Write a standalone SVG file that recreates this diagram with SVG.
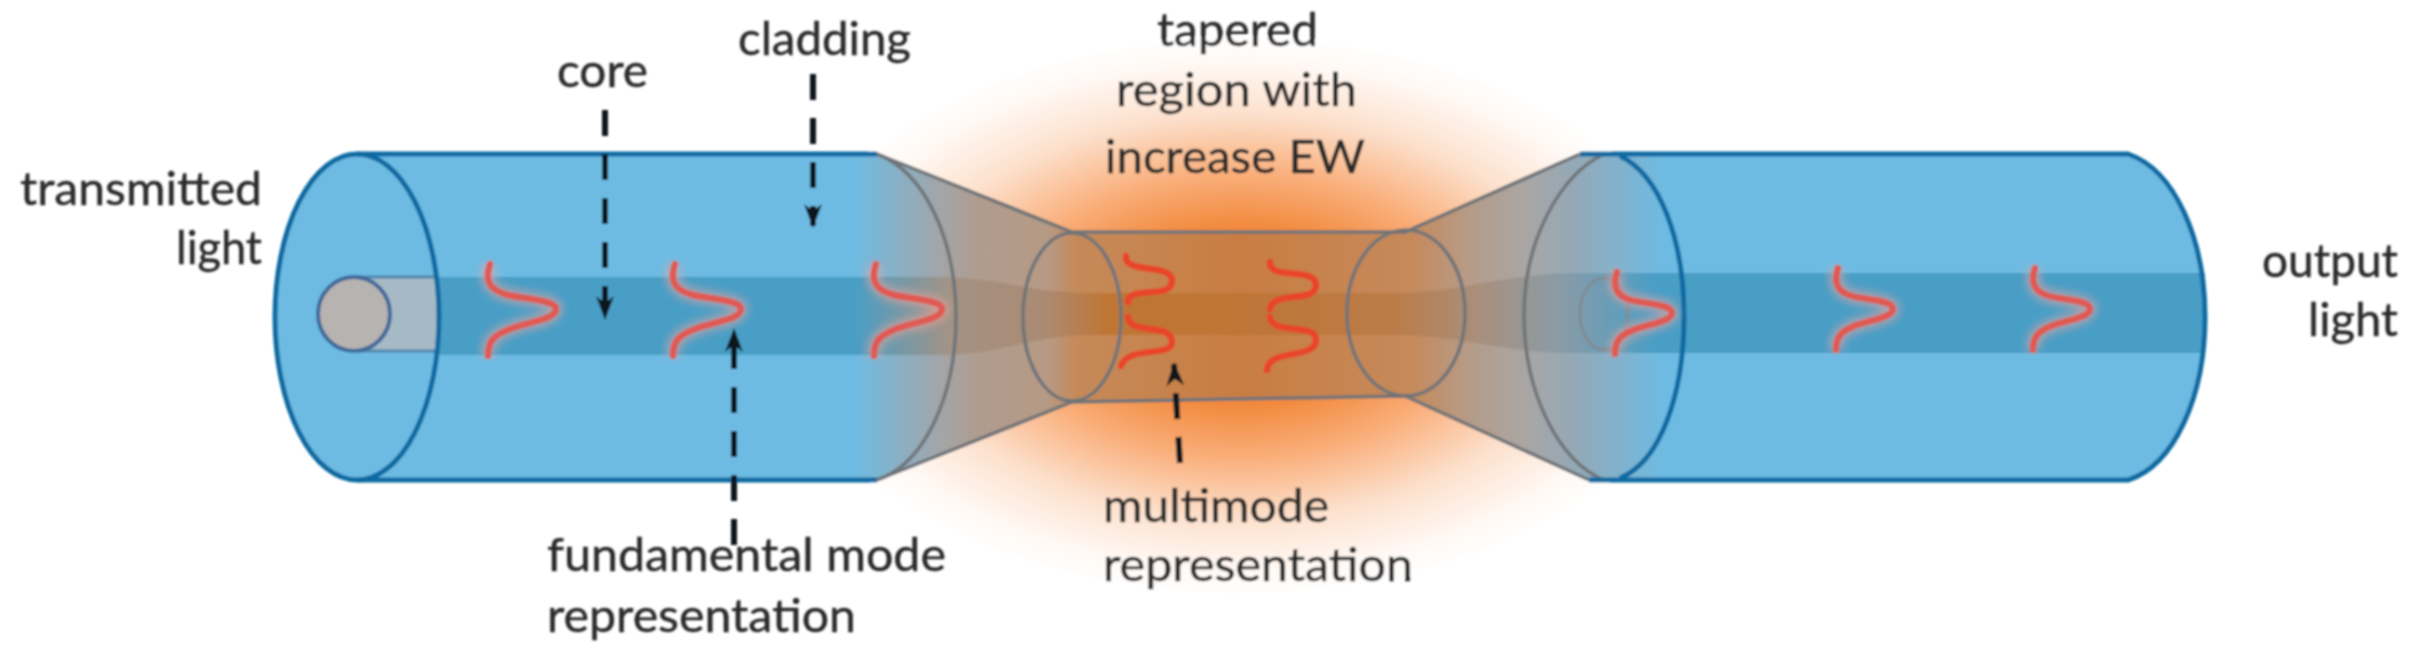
<svg xmlns="http://www.w3.org/2000/svg" width="2414" height="663" viewBox="0 0 2414 663">
<defs>
<radialGradient id="glow" gradientUnits="userSpaceOnUse" cx="0" cy="0" r="1" gradientTransform="translate(1240 316) scale(460 280)">
<stop offset="0" stop-color="#f07a28"/><stop offset="0.32" stop-color="#f28a3e"/><stop offset="0.5" stop-color="#f9ad78"/><stop offset="0.72" stop-color="#fde0cc"/><stop offset="0.9" stop-color="#fff8f3"/><stop offset="1" stop-color="#ffffff"/>
</radialGradient>
<linearGradient id="body" gradientUnits="userSpaceOnUse" x1="275" y1="0" x2="2205" y2="0">
<stop offset="0" stop-color="#6dbbe3"/>
<stop offset="0.30" stop-color="#6dbbe3"/>
<stop offset="0.345" stop-color="#a3a5a8"/>
<stop offset="0.365" stop-color="#b09c8e"/>
<stop offset="0.40" stop-color="#b69a85"/>
<stop offset="0.415" stop-color="#c58a5a"/>
<stop offset="0.50" stop-color="#c97d42"/>
<stop offset="0.59" stop-color="#c58a5c"/>
<stop offset="0.62" stop-color="#b59c8a"/>
<stop offset="0.648" stop-color="#a9a6a4"/>
<stop offset="0.675" stop-color="#93a9b8"/>
<stop offset="0.72" stop-color="#6dbbe3"/>
<stop offset="1" stop-color="#6dbbe3"/>
</linearGradient>
<linearGradient id="coreFill" gradientUnits="userSpaceOnUse" x1="275" y1="0" x2="2205" y2="0">
<stop offset="0" stop-color="#4a9ec6"/>
<stop offset="0.30" stop-color="#4a9ec6"/>
<stop offset="0.35" stop-color="#a39385"/>
<stop offset="0.40" stop-color="#ab8a72"/>
<stop offset="0.43" stop-color="#bf7636"/>
<stop offset="0.50" stop-color="#bf7636"/>
<stop offset="0.58" stop-color="#bb7c48"/>
<stop offset="0.625" stop-color="#a8907e"/>
<stop offset="0.665" stop-color="#8b9ba6"/>
<stop offset="0.715" stop-color="#4a9ec6"/>
<stop offset="1" stop-color="#4a9ec6"/>
</linearGradient>
<filter id="soft" x="-5%" y="-5%" width="110%" height="110%"><feGaussianBlur stdDeviation="1.2"/></filter>
<filter id="halo" x="-40%" y="-40%" width="180%" height="180%"><feGaussianBlur stdDeviation="4"/></filter>
<path id="wave" d="M2 0C-4 18 2 26 20 31C36 35 68 36 68 45C68 56 38 58 22 65C4 72 0 78 0 92"/>
<g id="mode"><use href="#wave" class="halo"/><use href="#wave" class="redline"/></g>
<path id="waveN" d="M2 0C-3 16 2 24 16 28C30 32 57 32 57 41C57 50 32 52 16 59C4 64 0 70 0 82"/>
<g id="modeN"><use href="#waveN" class="halo"/><use href="#waveN" class="redline"/></g>
<marker id="head" markerUnits="userSpaceOnUse" markerWidth="26" markerHeight="22" refX="22" refY="11" orient="auto" viewBox="0 0 26 22"><path d="M0 2L7 11L0 20L24 11Z" fill="#10141c"/></marker>
</defs>
<style>
text{font-family:Lato,"Open Sans","Liberation Sans",sans-serif;font-size:46px;fill:#2a2a2a;stroke:#2a2a2a;stroke-width:.4}
.end{stroke:#0b6aa2;stroke-width:5;fill:none}
.thin{stroke:#6f7478;stroke-width:3.5;fill:none}
.halo{fill:none;stroke:#f7a59a;stroke-width:13;opacity:.6;filter:url(#halo)}
.redline{fill:none;stroke:#e05a52;stroke-width:6.5;stroke-linecap:round}
.multi .redline{stroke:#e9452a}
.dash{stroke:#10141c;stroke-width:6;fill:none;stroke-dasharray:26 18}
</style>
<rect width="2414" height="663" fill="#fff"/>
<g filter="url(#soft)">
<ellipse id="evanescent-glow" cx="1240" cy="316" rx="460" ry="280" fill="url(#glow)"/>
<g id="fiber">
<path fill="url(#body)" d="M357 154H877L1072 232H1405L1580 154H2128C2175 170 2205 240 2205 317C2205 395 2175 465 2128 480H1589L1405 396L1072 402L877 480H357Z"/>
<path id="core-band" fill="url(#coreFill)" d="M354 277H950C1000 279 1030 292 1090 293H1400C1460 292 1500 275 1570 273H2205V353H1570C1500 352 1460 336 1400 335H1090C1030 336 1000 354 950 355H354Z"/>
</g>
<g id="left-section">
<ellipse cx="357" cy="317" rx="82" ry="163" fill="#6dbbe3"/>
<path d="M354 277H439V352H354Z" fill="#a6bac6"/>
<path d="M354 277H439M354 351H439" stroke="#4f86aa" stroke-width="3"/>
<ellipse cx="354" cy="314" rx="36" ry="37" fill="#b7b3b0" stroke="#41699a" stroke-width="4"/>
<ellipse class="end" cx="357" cy="317" rx="82" ry="163"/>
<path class="end" d="M357 154H877M357 480H877"/>
</g>
<g id="taper">
<path class="thin" d="M877 154C925 172 956 240 956 317C956 395 925 464 877 480"/>
<path class="thin" d="M877 154L1072 232H1405L1580 154M877 480L1072 402L1405 396L1589 480"/>
<ellipse class="thin" cx="1072" cy="317" rx="49" ry="84"/>
<ellipse class="thin" cx="1406" cy="313" rx="59" ry="83"/>
<path class="thin" d="M1604 154C1560 175 1524 240 1524 315C1524 395 1560 462 1604 480"/>
</g>
<g id="right-section">
<path class="end" d="M1580 154H2128C2175 170 2205 240 2205 317C2205 395 2175 465 2128 480H1589"/>
<path class="end" d="M1620 156C1660 175 1684 240 1684 316C1684 395 1660 462 1620 478"/>
<ellipse cx="1604" cy="314" rx="24" ry="36" fill="none" stroke="#7f8b94" stroke-width="3"/>
</g>
<g id="modes-fundamental">
<use href="#mode" x="488" y="264"/>
<use href="#mode" x="673" y="264"/>
<use href="#mode" x="874" y="264"/>
<use href="#modeN" x="1615" y="272"/>
<use href="#modeN" x="1836" y="268"/>
<use href="#modeN" x="2033" y="268"/>
</g>
<g id="modes-multi" class="multi" fill="none">
<path class="redline" d="M1126 256C1124 275 1172 262 1172 281C1172 300 1128 285 1128 302M1128 317C1130 336 1172 322 1172 342C1172 358 1128 345 1121 366"/>
<path class="redline" d="M1270 262C1268 281 1316 266 1316 285C1316 304 1272 290 1270 309M1270 317C1272 336 1316 322 1316 340C1316 360 1268 348 1267 370"/>
</g>
<g id="connectors">
<path class="dash" marker-end="url(#head)" d="M605 110V318"/>
<path class="dash" marker-end="url(#head)" d="M813 74V226"/>
<path class="dash" marker-end="url(#head)" d="M734 545V330"/>
<path class="dash" marker-end="url(#head)" d="M1180 463L1174 364"/>
</g>
<g id="labels">
<g id="label-transmitted"><text x="20" y="205" textLength="242" lengthAdjust="spacingAndGlyphs">transmitted</text><text x="176" y="264" textLength="86" lengthAdjust="spacingAndGlyphs">light</text></g>
<g id="label-core"><text x="557" y="87" textLength="91" lengthAdjust="spacingAndGlyphs">core</text></g>
<g id="label-cladding"><text x="738" y="55" textLength="173" lengthAdjust="spacingAndGlyphs">cladding</text></g>
<g id="label-tapered"><text x="1157" y="46" textLength="161" lengthAdjust="spacingAndGlyphs">tapered</text><text x="1116" y="106" textLength="241" lengthAdjust="spacingAndGlyphs">region with</text><text x="1105" y="173" textLength="260" lengthAdjust="spacingAndGlyphs">increase EW</text></g>
<g id="label-multimode"><text x="1103" y="522" textLength="226" lengthAdjust="spacingAndGlyphs">multimode</text><text x="1103" y="581" textLength="310" lengthAdjust="spacingAndGlyphs">representation</text></g>
<g id="label-fundamental"><text x="547" y="571" textLength="399" lengthAdjust="spacingAndGlyphs">fundamental mode</text><text x="547" y="632" textLength="309" lengthAdjust="spacingAndGlyphs">representation</text></g>
<g id="label-output"><text x="2262" y="277" textLength="136" lengthAdjust="spacingAndGlyphs">output</text><text x="2308" y="336" textLength="90" lengthAdjust="spacingAndGlyphs">light</text></g>
</g>
</g>
</svg>
